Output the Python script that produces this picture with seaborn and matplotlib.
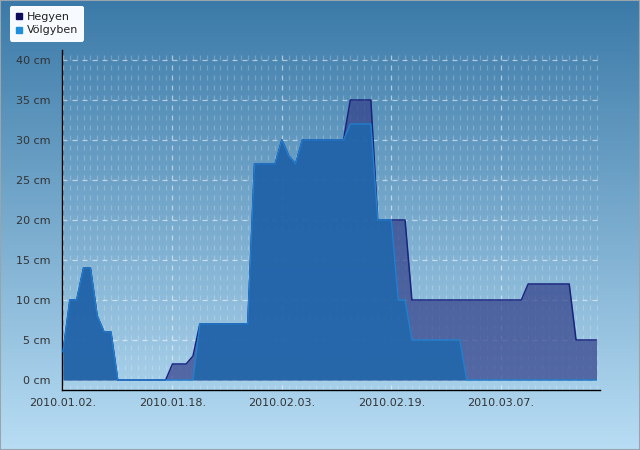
import numpy as np
import pandas as pd
import matplotlib
matplotlib.use("Agg")
import matplotlib.pyplot as plt
import matplotlib.dates as mdates
from matplotlib.lines import Line2D
from matplotlib.patches import Rectangle
import seaborn as sns

sns.set_style("white")
plt.rcParams['font.family'] = ['DejaVu Sans']

start_date = "2010-01-02"
n_days = 79
series_names = ["Hegyen", "Völgyben"]
hegyen = [3.5, 10, 10, 14, 14, 8, 6, 6, 0, 0,
          0, 0, 0, 0, 0, 0, 2, 2, 2, 3,
          7, 7, 7, 7, 7, 7, 7, 7, 27, 27,
          27, 27, 30, 28, 27, 30, 30, 30, 30, 30,
          30, 30, 35, 35, 35, 35, 20, 20, 20, 20,
          20, 10, 10, 10, 10, 10, 10, 10, 10, 10,
          10, 10, 10, 10, 10, 10, 10, 10, 12, 12,
          12, 12, 12, 12, 12, 5, 5, 5, 5]
volgyben = [3.5, 10, 10, 14, 14, 8, 6, 6, 0, 0,
            0, 0, 0, 0, 0, 0, 0, 0, 0, 0,
            7, 7, 7, 7, 7, 7, 7, 7, 27, 27,
            27, 27, 30, 28, 27, 30, 30, 30, 30, 30,
            30, 30, 32, 32, 32, 32, 20, 20, 20, 10,
            10, 5, 5, 5, 5, 5, 5, 5, 5, 0,
            0, 0, 0, 0, 0, 0, 0, 0, 0, 0,
            0, 0, 0, 0, 0, 0, 0, 0, 0]
tick_dates = ["2010-01-02", "2010-01-18", "2010-02-03", "2010-02-19", "2010-03-07"]
y_ticks = [0, 5, 10, 15, 20, 25, 30, 35, 40]

dates = pd.date_range(start_date, periods=n_days, freq="D")
df = pd.DataFrame({"date": dates, "Hegyen": hegyen, "Völgyben": volgyben})

W, H = 640, 450
fig = plt.figure(figsize=(W / 100, H / 100), dpi=100)

# background gradient
bg = fig.add_axes([0, 0, 1, 1], zorder=-10)
top = np.array([0x3b, 0x7a, 0xa8]) / 255
bot = np.array([0xb8, 0xdd, 0xf4]) / 255
t = np.linspace(0, 1, 256)[:, None]
grad = top[None, :] * (1 - t) + bot[None, :] * t
bg.imshow(grad[:, None, :], aspect="auto", extent=[0, 1, 0, 1], origin="upper")
bg.set_axis_off()
bg.add_patch(Rectangle((0, 0), 1, 1, transform=bg.transAxes, fill=False,
                       edgecolor="#9aa4ad", linewidth=1.5))

ax = fig.add_axes([62 / W, 1 - 390 / H, (600 - 62) / W, (390 - 50) / H])
ax.set_facecolor("none")

h_fill, h_edge = "#33418a", "#1a237e"
v_fill, v_edge = "#1f67ac", "#1f80d0"

ax.fill_between(df["date"], 0, df["Hegyen"], color=h_fill, alpha=0.72, linewidth=0, zorder=2)
sns.lineplot(data=df, x="date", y="Hegyen", ax=ax, color=h_edge, linewidth=1.1, zorder=3)
ax.fill_between(df["date"], 0, df["Völgyben"], color=v_fill, alpha=0.85, linewidth=0, zorder=4)
sns.lineplot(data=df, x="date", y="Völgyben", ax=ax, color=v_edge, linewidth=1.0, zorder=5)

x0 = dates[0]
ax.set_xlim(x0 - pd.Timedelta(days=0.15), x0 + pd.Timedelta(days=78.5))
ax.set_ylim(-1.25, 41.25)

ax.set_xticks(pd.to_datetime(tick_dates))
ax.xaxis.set_major_formatter(mdates.DateFormatter("%Y.%m.%d."))
ax.xaxis.set_minor_locator(mdates.DayLocator())
ax.set_yticks(y_ticks)
ax.set_yticklabels([f"{v} cm" for v in y_ticks])
ax.set_xlabel("")
ax.set_ylabel("")

ax.grid(True, which="major", axis="both", color="white", alpha=0.55,
        linestyle=(0, (4, 4)), linewidth=0.9, zorder=1)
ax.grid(True, which="minor", axis="x", color="white", alpha=0.22,
        linestyle=(0, (4, 4)), linewidth=0.9, zorder=1)
ax.set_axisbelow(True)

for s in ["top", "right"]:
    ax.spines[s].set_visible(False)
for s in ["left", "bottom"]:
    ax.spines[s].set_color("black")
    ax.spines[s].set_linewidth(1.0)

ax.tick_params(axis="y", which="major", direction="out", length=5, width=1,
               color="black", labelsize=8, labelcolor="#333333", pad=3)
ax.tick_params(axis="x", which="major", direction="inout", length=7, width=1,
               color="black", labelsize=8, labelcolor="#333333", pad=2)
ax.tick_params(axis="x", which="minor", length=0)

handles = [Line2D([], [], linestyle="none", marker="s", markersize=5,
                  markerfacecolor="#0d0d5c", markeredgecolor="#0d0d5c"),
           Line2D([], [], linestyle="none", marker="s", markersize=5,
                  markerfacecolor="#1e8fd9", markeredgecolor="#1e8fd9")]
leg = fig.legend(handles, series_names, loc="upper left",
                 bbox_to_anchor=(10 / W, 1 - 6 / H), fontsize=8,
                 frameon=True, fancybox=True, handlelength=0.6,
                 handletextpad=0.35, borderpad=0.55, labelspacing=0.3,
                 borderaxespad=0)
leg.get_frame().set_facecolor("#f7fbff")
leg.get_frame().set_edgecolor("none")
leg.get_frame().set_alpha(1)
for txt in leg.get_texts():
    txt.set_color("#222222")

fig.savefig("out.png", dpi=100)
